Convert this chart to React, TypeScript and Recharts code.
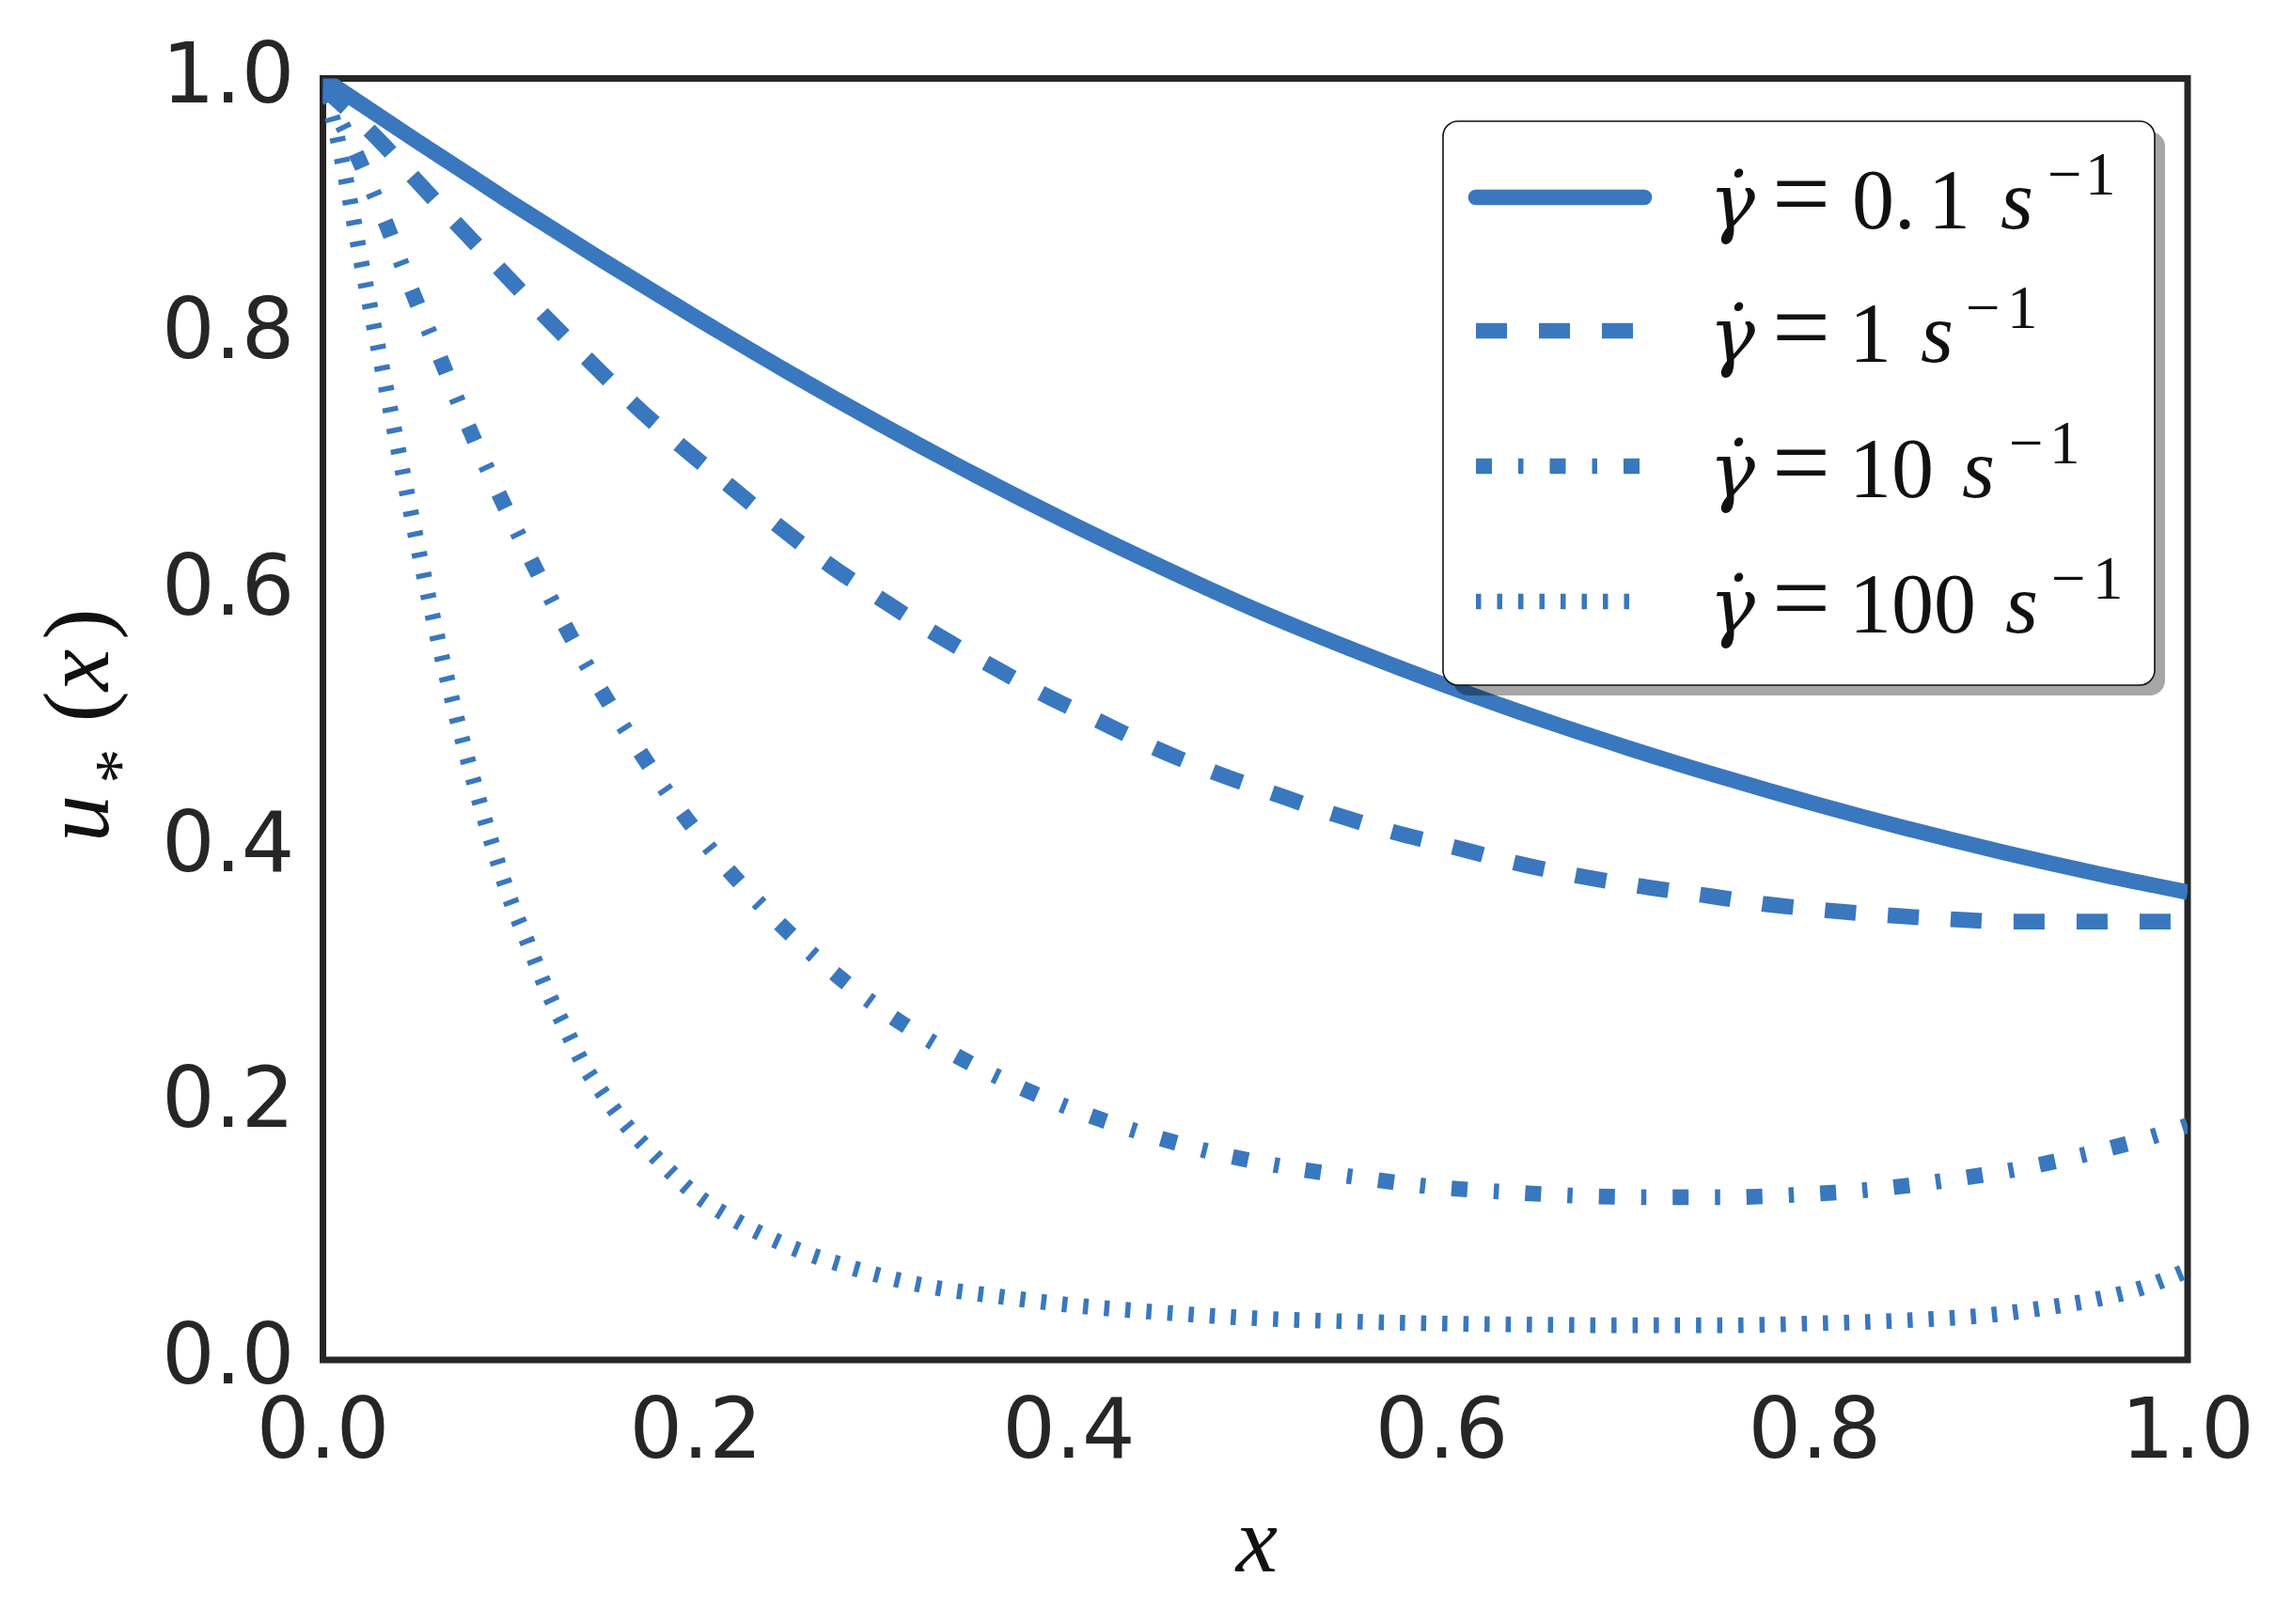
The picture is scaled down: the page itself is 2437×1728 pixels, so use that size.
import React from "react";
import { LineChart, Line, XAxis, YAxis, ReferenceArea, Legend } from "recharts";

// ---------- data ----------
const rates = ["0.1", "1", "10", "100"];

const xSolid = [0, 0.05, 0.1, 0.15, 0.2, 0.25, 0.3, 0.35, 0.4, 0.45, 0.5, 0.55, 0.6, 0.65, 0.7, 0.75, 0.8, 0.85, 0.9, 0.95, 1.0];
const ySolid = [1.0, 0.9515, 0.904, 0.858, 0.8135, 0.7705, 0.7295, 0.6905, 0.6535, 0.6185, 0.5855, 0.5555, 0.5275, 0.5015, 0.4775, 0.455, 0.434, 0.4145, 0.3965, 0.38, 0.365];

const xDashed = [0, 0.028, 0.051, 0.074, 0.097, 0.12, 0.144, 0.168, 0.193, 0.219, 0.245, 0.272, 0.3, 0.328, 0.358, 0.387, 0.417, 0.447, 0.479, 0.51, 0.542, 0.574, 0.607, 0.639, 0.672, 0.705, 0.739, 0.772, 0.805, 0.839, 0.872, 0.906, 0.94, 0.973, 1.0];
const yDashed = [0.993, 0.955, 0.919, 0.883, 0.848, 0.813, 0.778, 0.744, 0.712, 0.681, 0.65, 0.62, 0.593, 0.567, 0.542, 0.519, 0.498, 0.477, 0.458, 0.442, 0.426, 0.412, 0.4, 0.388, 0.378, 0.37, 0.363, 0.356, 0.351, 0.347, 0.344, 0.342, 0.342, 0.342, 0.342];

const xDashDot = [0, 0.017, 0.033, 0.047, 0.062, 0.077, 0.093, 0.11, 0.128, 0.147, 0.168, 0.19, 0.214, 0.241, 0.27, 0.301, 0.334, 0.369, 0.405, 0.442, 0.48, 0.519, 0.557, 0.596, 0.635, 0.675, 0.713, 0.753, 0.792, 0.831, 0.87, 0.909, 0.947, 0.985, 1.0];
const yDashDot = [0.993, 0.944, 0.89, 0.837, 0.785, 0.732, 0.68, 0.629, 0.578, 0.528, 0.479, 0.432, 0.388, 0.346, 0.307, 0.272, 0.242, 0.216, 0.194, 0.176, 0.161, 0.15, 0.142, 0.135, 0.131, 0.128, 0.127, 0.127, 0.129, 0.133, 0.14, 0.149, 0.161, 0.176, 0.183];

const xDotted = [0, 0.005, 0.01, 0.015, 0.02, 0.025, 0.03, 0.035, 0.04, 0.045, 0.05, 0.06, 0.07, 0.08, 0.09, 0.1, 0.11, 0.12, 0.13, 0.14, 0.15, 0.16, 0.18, 0.2, 0.22, 0.24, 0.26, 0.28, 0.3, 0.33, 0.36, 0.4, 0.45, 0.5, 0.55, 0.6, 0.65, 0.7, 0.75, 0.8, 0.85, 0.9, 0.925, 0.95, 0.975, 1.0];
const yDotted = [0.985, 0.97, 0.938, 0.901, 0.861, 0.824, 0.787, 0.75, 0.713, 0.677, 0.641, 0.573, 0.511, 0.456, 0.406, 0.361, 0.325, 0.289, 0.259, 0.23, 0.208, 0.188, 0.156, 0.129, 0.11, 0.095, 0.083, 0.0735, 0.0654, 0.056, 0.05, 0.043, 0.037, 0.0325, 0.03, 0.0284, 0.0275, 0.027, 0.027, 0.0285, 0.031, 0.036, 0.041, 0.047, 0.056, 0.07];

const xTicks = [0, 0.2, 0.4, 0.6, 0.8, 1.0];
const yTicks = [0, 0.2, 0.4, 0.6, 0.8, 1.0];

// ---------- styling ----------
const BLUE = "#3977bf";
const INK = "#262626";
const LW = 16.7;
const dashes = ["", "33 34", "17 28 5.5 28", "5.5 17"];

const toData = (xs: number[], ys: number[]) => xs.map((x, i) => ({ x, v: ys[i] }));
const seriesData = [
  toData(xSolid, ySolid),
  toData(xDashed, yDashed),
  toData(xDashDot, yDashDot),
  toData(xDotted, yDotted),
];

const YTick = (props: any) => {
  const { x, y, payload } = props;
  return (
    <text x={x} y={y + 25} textAnchor="end" fontFamily="DejaVu Sans" fontSize={89} fill={INK}>
      {Number(payload.value).toFixed(1)}
    </text>
  );
};

const XTick = (props: any) => {
  const { x, y, payload } = props;
  return (
    <text x={x} y={y + 104} textAnchor="middle" fontFamily="DejaVu Sans" fontSize={89} fill={INK}>
      {Number(payload.value).toFixed(1)}
    </text>
  );
};

// legend layout (relative to legend wrapper at 1500,100)
const rowLineY = [110, 252, 396, 540];
const rowBase = [143, 285, 429, 573];
const sX = [628, 543, 587, 633];
const minusX = [678, 591, 637, 682];
const supX = [718, 635, 680, 726];
const SERIF = "Liberation Serif";
const TXT = "#111";

const LegendBox = () => (
  <svg width={830} height={660} style={{ display: "block", overflow: "visible" }}>
    <rect x={46} y={40} width={757} height={600} rx={16} fill="#000" fillOpacity={0.35} />
    <rect x={35} y={29} width={757} height={600} rx={16} fill="#fff" stroke="#111" strokeWidth={1.6} />
    {rates.map((r, i) => {
      const ly = rowLineY[i];
      const b = rowBase[i];
      const parts = r.includes(".")
        ? [{ t: r.split(".")[0] + ".", x: 470 }, { t: r.split(".")[1], x: 551 }]
        : [{ t: r, x: 467 }];
      return (
        <g key={r}>
          <line
            x1={70}
            x2={249}
            y1={ly}
            y2={ly}
            stroke={BLUE}
            strokeWidth={LW}
            strokeDasharray={dashes[i] || undefined}
            strokeLinecap={i === 0 ? "round" : "butt"}
          />
          <text y={b} fontFamily={SERIF} fontSize={90} fill={TXT}>
            <tspan x={318} fontFamily="DejaVu Serif" fontStyle="italic" fontSize={82}>{"γ\u0307"}</tspan>
            <tspan x={385} fontSize={110}>=</tspan>
            {parts.map((p) => (
              <tspan key={p.t + p.x} x={p.x}>{p.t}</tspan>
            ))}
            <tspan x={sX[i]} fontStyle="italic">s</tspan>
            <tspan x={minusX[i]} dy={-36} fontSize={65}>−</tspan>
            <tspan x={supX[i]} fontSize={65}>1</tspan>
          </text>
        </g>
      );
    })}
  </svg>
);

export default function App() {
  return (
    <div style={{ position: "absolute", left: 0, top: 0, width: 2437, height: 1728, background: "#fff" }}>
      <LineChart width={2437} height={1728} margin={{ top: 83.5, right: 110, left: 0, bottom: 0 }}>
        <XAxis
          dataKey="x"
          type="number"
          domain={[0, 1]}
          ticks={xTicks}
          height={281}
          axisLine={false}
          tickLine={false}
          tickSize={0}
          tickMargin={0}
          tick={<XTick />}
          allowDataOverflow
        />
        <YAxis
          type="number"
          domain={[0, 1]}
          ticks={yTicks}
          width={343.5}
          axisLine={false}
          tickLine={false}
          tickSize={0}
          tickMargin={30}
          tick={<YTick />}
          allowDataOverflow
        />
        {seriesData.map((d, i) => (
          <Line
            key={rates[i]}
            data={d}
            dataKey="v"
            type="monotone"
            stroke={BLUE}
            strokeWidth={LW}
            strokeDasharray={dashes[i] || undefined}
            strokeLinecap="butt"
            dot={false}
            activeDot={false}
            isAnimationActive={false}
            name={rates[i]}
          />
        ))}
        <ReferenceArea x1={0} x2={1} y1={0} y2={1} fill="none" fillOpacity={0} stroke={INK} strokeWidth={7} ifOverflow="visible" />
        <Legend
          layout="vertical"
          align="center"
          verticalAlign="middle"
          content={() => <LegendBox />}
          wrapperStyle={{ left: 1500, top: 100, width: 830, height: 660 }}
        />
      </LineChart>
      <svg width={2437} height={1728} style={{ position: "absolute", left: 0, top: 0, pointerEvents: "none" }}>
        <text x={1337} y={1672} textAnchor="middle" fontFamily={SERIF} fontStyle="italic" fontSize={100} fill={TXT}>x</text>
        <text transform="translate(115,896) rotate(-90)" fontFamily={SERIF} fontSize={100} fill={TXT}>
          <tspan fontStyle="italic">u</tspan>
          <tspan fontSize={75} dx={12} dy={37}>*</tspan>
          <tspan dx={28} dy={-37}>(</tspan>
          <tspan fontStyle="italic">x</tspan>
          <tspan dx={10}>)</tspan>
        </text>
      </svg>
    </div>
  );
}
